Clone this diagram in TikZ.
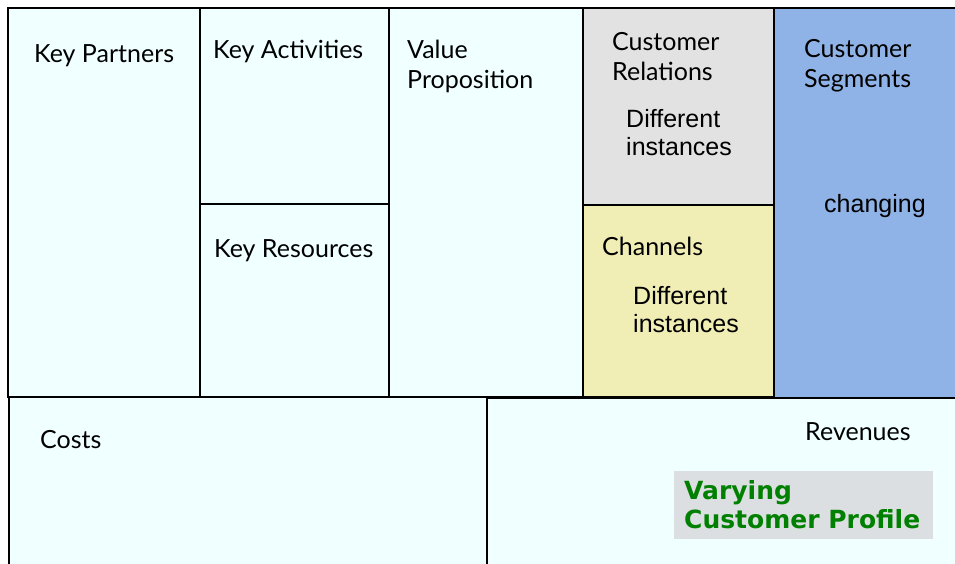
\documentclass[tikz,border=0pt]{standalone}
\usepackage{fontspec}
\setmainfont{Lato}
\newfontfamily\arialfont{Liberation Sans}
\newfontfamily\verdanafont{DejaVu Sans}
\definecolor{canvascyan}{HTML}{F0FFFF}
\definecolor{relgray}{HTML}{E2E2E2}
\definecolor{chanyellow}{HTML}{F0EDB5}
\definecolor{segblue}{HTML}{8FB3E7}
\definecolor{boxgray}{HTML}{DCDFE1}
\definecolor{profilegreen}{HTML}{008000}
\tikzset{
	block/.style = {draw = black, line width = 2pt, fill = #1},
	block/.default = canvascyan,
	title/.style = {anchor = base west, inner sep = 0pt, align = left, font = \fontsize{25}{30}\selectfont},
	remark/.style = {anchor = base west, inner sep = 0pt, align = left, font = \arialfont\fontsize{25}{28}\selectfont}
}
\begin{document}
\begin{tikzpicture}[x = 1pt, y = -1pt]
				\clip (0, 0) rectangle (955, 563);
				\fill[white] (0, 0) rectangle (955, 563);
				% upper row of the canvas
				\draw[block] (8, 8) rectangle (200, 397);
				\draw[block] (200, 8) rectangle (389, 204);
				\draw[block] (200, 204) rectangle (389, 397);
				\draw[block] (389, 8) rectangle (583, 397);
				\draw[block = relgray] (583, 8) rectangle (774, 205);
				\draw[block = chanyellow] (583, 205) rectangle (774, 397);
				\draw[block = segblue] (774, 8) rectangle (970, 398);
				% lower row
				\draw[block] (9, 397) rectangle (487, 580);
				\draw[block] (487, 398) rectangle (970, 580);
				\fill[boxgray] (674, 471) rectangle (933, 539);
				% multi-line nodes sit on the baseline of their last line
				\node[title] (partners) at (34, 62) {Key Partners};
				\node[title] (activities) at (213, 58) {Key Activities};
				\node[title] (resources) at (214, 257) {Key Resources};
				\node[title] (value) at (407, 88) {Value\\Proposition};
				\node[title] (relations) at (612, 80) {Customer\\Relations};
					\node[remark] (relnote) at (626, 155) {Different\\instances};
				\node[title] (channels) at (602, 255) {Channels};
					\node[remark] (channote) at (633, 332) {Different\\instances};
				\node[title] (segments) at (804, 87) {Customer\\Segments};
					\node[remark] (segnote) at (824, 212) {changing};
				\node[title] (costs) at (40, 448) {Costs};
				\node[title] (revenues) at (805, 440) {Revenues};
				\node[anchor = base west, inner sep = 0pt, align = left, text = profilegreen, font = \verdanafont\bfseries\fontsize{25}{29}\selectfont] (profile) at (684, 528) {Varying\\Customer Profile};
			\end{tikzpicture}
\end{document}
